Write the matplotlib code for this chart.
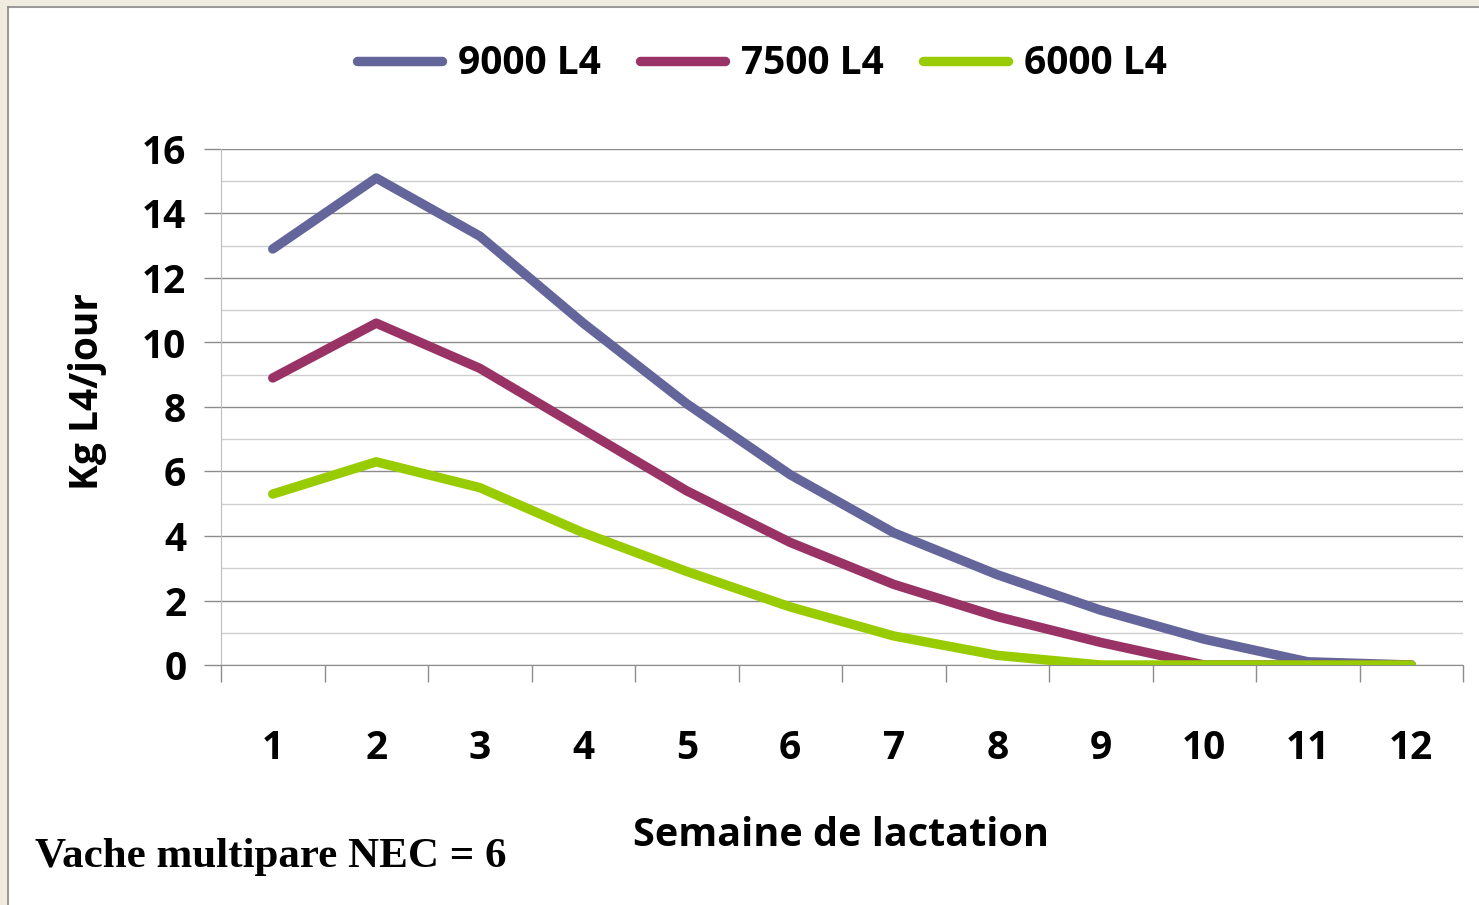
import matplotlib.pyplot as plt
from matplotlib.lines import Line2D
from matplotlib.patches import Rectangle
from matplotlib.ticker import FixedLocator, MultipleLocator

weeks = [1, 2, 3, 4, 5, 6, 7, 8, 9, 10, 11, 12]
l4_9000 = [12.9, 15.1, 13.3, 10.6, 8.1, 5.9, 4.1, 2.8, 1.7, 0.8, 0.1, 0.0]
l4_7500 = [8.9, 10.6, 9.2, 7.3, 5.4, 3.8, 2.5, 1.5, 0.7, 0.0, 0.0, 0.0]
l4_6000 = [5.3, 6.3, 5.5, 4.1, 2.9, 1.8, 0.9, 0.3, 0.0, 0.0, 0.0, 0.0]
series_labels = ["9000 L4", "7500 L4", "6000 L4"]
series_colors = ["#64659a", "#993366", "#99cc00"]

LABEL_FONT = "Open Sans"

fig = plt.figure(figsize=(14.79, 9.05), dpi=100)
fig.patch.set_facecolor("white")

# light beige margin and frame like the slide background
fig.patches.append(Rectangle((0, 0), 8 / 1479, 1, transform=fig.transFigure,
                             color="#f1ece0", zorder=0))
fig.patches.append(Rectangle((0, 1 - 7 / 905), 1, 7 / 905, transform=fig.transFigure,
                             color="#f1ece0", zorder=0))
fig.add_artist(Line2D([8 / 1479, 8 / 1479], [0, 1 - 7 / 905], transform=fig.transFigure,
                      color="#8a8a8a", lw=1.2))
fig.add_artist(Line2D([8 / 1479, 1], [1 - 7 / 905, 1 - 7 / 905], transform=fig.transFigure,
                      color="#8a8a8a", lw=1.2))

ax = fig.add_axes([221 / 1479, 1 - 665 / 905, 1242 / 1479, 516 / 905])

for values, label, color in zip([l4_9000, l4_7500, l4_6000], series_labels, series_colors):
    ax.plot(weeks, values, color=color, lw=6.8, label=label,
            solid_capstyle="round", solid_joinstyle="round", zorder=3)

ax.set_xlim(0.5, 12.5)
ax.set_ylim(0, 16)

ax.yaxis.set_major_locator(MultipleLocator(2))
ax.yaxis.set_minor_locator(MultipleLocator(1))
ax.grid(axis="y", which="major", color="#8c8c8c", lw=1.0)
ax.grid(axis="y", which="minor", color="#cfcfcf", lw=1.0)
ax.set_axisbelow(True)

# category axis: ticks on bin edges, labels at bin centres
ax.xaxis.set_major_locator(FixedLocator([w - 0.5 for w in weeks] + [weeks[-1] + 0.5]))
ax.xaxis.set_major_formatter(plt.NullFormatter())
ax.set_xticks(weeks, minor=True)
ax.set_xticklabels([str(w) for w in weeks], minor=True)
ax.tick_params(axis="x", which="major", length=12, width=1, color="#8c8c8c", direction="out")
ax.tick_params(axis="x", which="minor", length=0, pad=46, labelsize=28)
ax.tick_params(axis="y", which="major", length=12, width=1, color="#8c8c8c",
               direction="out", pad=13, labelsize=28)
ax.tick_params(axis="y", which="minor", length=0)

for lab in ax.get_xticklabels(minor=True) + ax.get_yticklabels():
    lab.set_fontfamily(LABEL_FONT)
    lab.set_fontweight("bold")

for side in ["top", "right"]:
    ax.spines[side].set_visible(False)
ax.spines["left"].set_color("#bdbdbd")
ax.spines["bottom"].set_color("#8c8c8c")

ax.set_ylabel("Kg L4/jour", fontsize=28, fontweight="bold", family=LABEL_FONT)
ax.yaxis.set_label_coords(-0.092, 0.53)
fig.text(0.5686, 1 - 835 / 905, "Semaine de lactation", ha="center", va="center",
         fontsize=28.5, fontweight="bold", family=LABEL_FONT)

fig.text(35 / 1479, 1 - 857 / 905, "Vache multipare NEC = 6", ha="left", va="center",
         fontsize=31, fontweight="bold", family="Liberation Serif")

fig.legend(loc="center", bbox_to_anchor=(0.515, 1 - 64 / 905), ncol=3, frameon=False,
           handlelength=2.2, handletextpad=0.4, columnspacing=1.0,
           prop={"family": LABEL_FONT, "weight": "bold", "size": 28})

fig.savefig("out.png", dpi=100)
